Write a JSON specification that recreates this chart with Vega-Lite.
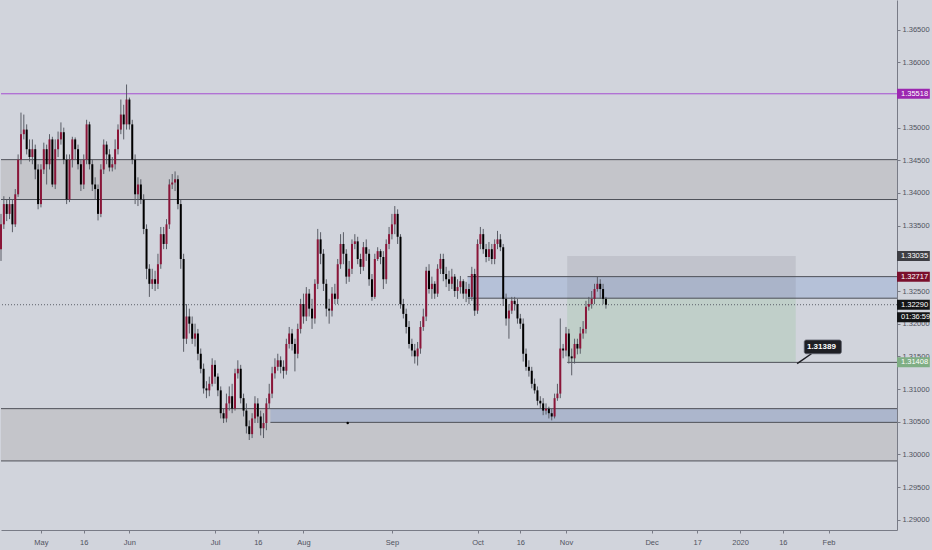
{
  "$schema": "https://vega.github.io/schema/vega-lite/v6.json",
  "width": 932,
  "height": 550,
  "autosize": {"type": "fit", "contains": "padding"},
  "padding": {"top": 0, "left": 0, "right": 0, "bottom": 4},
  "background": "#d1d4dc",
  "config": {"view": {"stroke": null}, "font": "Liberation Sans"},
  "datasets": {
    "candles": [
      {"t":"2019-04-17","o":1.3314,"h":1.3368,"l":1.3296,"c":1.3352},
      {"t":"2019-04-18","o":1.3352,"h":1.3395,"l":1.3345,"c":1.3383},
      {"t":"2019-04-19","o":1.3383,"h":1.3390,"l":1.3357,"c":1.3368},
      {"t":"2019-04-20","o":1.3368,"h":1.3394,"l":1.3360,"c":1.3383},
      {"t":"2019-04-21","o":1.3383,"h":1.3390,"l":1.3340,"c":1.3352},
      {"t":"2019-04-22","o":1.3352,"h":1.3406,"l":1.3348,"c":1.3398},
      {"t":"2019-04-23","o":1.3398,"h":1.3459,"l":1.3394,"c":1.3451},
      {"t":"2019-04-24","o":1.3451,"h":1.3523,"l":1.3444,"c":1.3490},
      {"t":"2019-04-25","o":1.3490,"h":1.3520,"l":1.3482,"c":1.3497},
      {"t":"2019-04-26","o":1.3497,"h":1.3505,"l":1.3459,"c":1.3467},
      {"t":"2019-04-27","o":1.3467,"h":1.3482,"l":1.3448,"c":1.3455},
      {"t":"2019-04-28","o":1.3455,"h":1.3482,"l":1.3444,"c":1.3467},
      {"t":"2019-04-29","o":1.3467,"h":1.3474,"l":1.3421,"c":1.3436},
      {"t":"2019-04-30","o":1.3436,"h":1.3444,"l":1.3375,"c":1.3383},
      {"t":"2019-05-01","o":1.3383,"h":1.3444,"l":1.3378,"c":1.3436},
      {"t":"2019-05-02","o":1.3436,"h":1.3477,"l":1.3429,"c":1.3467},
      {"t":"2019-05-03","o":1.3467,"h":1.3474,"l":1.3413,"c":1.3444},
      {"t":"2019-05-04","o":1.3444,"h":1.3490,"l":1.3436,"c":1.3482},
      {"t":"2019-05-05","o":1.3482,"h":1.3486,"l":1.3409,"c":1.3413},
      {"t":"2019-05-06","o":1.3413,"h":1.3482,"l":1.3406,"c":1.3467},
      {"t":"2019-05-07","o":1.3467,"h":1.3494,"l":1.3455,"c":1.3482},
      {"t":"2019-05-08","o":1.3482,"h":1.3508,"l":1.3474,"c":1.3493},
      {"t":"2019-05-09","o":1.3493,"h":1.3500,"l":1.3444,"c":1.3451},
      {"t":"2019-05-10","o":1.3451,"h":1.3459,"l":1.3383,"c":1.3390},
      {"t":"2019-05-11","o":1.3390,"h":1.3459,"l":1.3386,"c":1.3451},
      {"t":"2019-05-12","o":1.3451,"h":1.3486,"l":1.3439,"c":1.3482},
      {"t":"2019-05-13","o":1.3482,"h":1.3485,"l":1.3451,"c":1.3467},
      {"t":"2019-05-14","o":1.3467,"h":1.3474,"l":1.3436,"c":1.3444},
      {"t":"2019-05-15","o":1.3444,"h":1.3451,"l":1.3403,"c":1.3413},
      {"t":"2019-05-16","o":1.3413,"h":1.3459,"l":1.3406,"c":1.3451},
      {"t":"2019-05-17","o":1.3451,"h":1.3512,"l":1.3444,"c":1.3505},
      {"t":"2019-05-18","o":1.3505,"h":1.3509,"l":1.3436,"c":1.3444},
      {"t":"2019-05-19","o":1.3444,"h":1.3451,"l":1.3403,"c":1.3413},
      {"t":"2019-05-20","o":1.3413,"h":1.3424,"l":1.3390,"c":1.3406},
      {"t":"2019-05-21","o":1.3406,"h":1.3413,"l":1.3358,"c":1.3368},
      {"t":"2019-05-22","o":1.3368,"h":1.3444,"l":1.3363,"c":1.3436},
      {"t":"2019-05-23","o":1.3436,"h":1.3482,"l":1.3429,"c":1.3474},
      {"t":"2019-05-24","o":1.3474,"h":1.3479,"l":1.3444,"c":1.3459},
      {"t":"2019-05-25","o":1.3459,"h":1.3467,"l":1.3433,"c":1.3439},
      {"t":"2019-05-26","o":1.3439,"h":1.3455,"l":1.3433,"c":1.3444},
      {"t":"2019-05-27","o":1.3444,"h":1.3482,"l":1.3436,"c":1.3467},
      {"t":"2019-05-28","o":1.3467,"h":1.3505,"l":1.3459,"c":1.3497},
      {"t":"2019-05-29","o":1.3497,"h":1.3543,"l":1.3490,"c":1.3520},
      {"t":"2019-05-30","o":1.3520,"h":1.3535,"l":1.3482,"c":1.3505},
      {"t":"2019-05-31","o":1.3505,"h":1.3566,"l":1.3497,"c":1.3543},
      {"t":"2019-06-01","o":1.3543,"h":1.3546,"l":1.3497,"c":1.3505},
      {"t":"2019-06-02","o":1.3505,"h":1.3512,"l":1.3444,"c":1.3451},
      {"t":"2019-06-03","o":1.3451,"h":1.3459,"l":1.3383,"c":1.3398},
      {"t":"2019-06-04","o":1.3398,"h":1.3424,"l":1.3380,"c":1.3413},
      {"t":"2019-06-05","o":1.3413,"h":1.3421,"l":1.3383,"c":1.3390},
      {"t":"2019-06-06","o":1.3390,"h":1.3398,"l":1.3337,"c":1.3345},
      {"t":"2019-06-07","o":1.3345,"h":1.3352,"l":1.3268,"c":1.3284},
      {"t":"2019-06-08","o":1.3284,"h":1.3291,"l":1.3241,"c":1.3261},
      {"t":"2019-06-09","o":1.3261,"h":1.3284,"l":1.3253,"c":1.3268},
      {"t":"2019-06-10","o":1.3268,"h":1.3281,"l":1.3250,"c":1.3261},
      {"t":"2019-06-11","o":1.3261,"h":1.3307,"l":1.3253,"c":1.3291},
      {"t":"2019-06-12","o":1.3291,"h":1.3348,"l":1.3284,"c":1.3337},
      {"t":"2019-06-13","o":1.3337,"h":1.3348,"l":1.3314,"c":1.3322},
      {"t":"2019-06-14","o":1.3322,"h":1.3360,"l":1.3314,"c":1.3352},
      {"t":"2019-06-15","o":1.3352,"h":1.3421,"l":1.3345,"c":1.3413},
      {"t":"2019-06-16","o":1.3413,"h":1.3429,"l":1.3406,"c":1.3416},
      {"t":"2019-06-17","o":1.3416,"h":1.3433,"l":1.3403,"c":1.3421},
      {"t":"2019-06-18","o":1.3421,"h":1.3427,"l":1.3375,"c":1.3383},
      {"t":"2019-06-19","o":1.3383,"h":1.3390,"l":1.3284,"c":1.3299},
      {"t":"2019-06-20","o":1.3299,"h":1.3307,"l":1.3157,"c":1.3177},
      {"t":"2019-06-21","o":1.3177,"h":1.3230,"l":1.3169,"c":1.3211},
      {"t":"2019-06-22","o":1.3211,"h":1.3223,"l":1.3185,"c":1.3200},
      {"t":"2019-06-23","o":1.3200,"h":1.3211,"l":1.3169,"c":1.3177},
      {"t":"2019-06-24","o":1.3177,"h":1.3200,"l":1.3165,"c":1.3185},
      {"t":"2019-06-25","o":1.3185,"h":1.3192,"l":1.3144,"c":1.3154},
      {"t":"2019-06-26","o":1.3154,"h":1.3162,"l":1.3124,"c":1.3131},
      {"t":"2019-06-27","o":1.3131,"h":1.3139,"l":1.3093,"c":1.3101},
      {"t":"2019-06-28","o":1.3101,"h":1.3112,"l":1.3086,"c":1.3098},
      {"t":"2019-06-29","o":1.3098,"h":1.3119,"l":1.3089,"c":1.3108},
      {"t":"2019-06-30","o":1.3108,"h":1.3147,"l":1.3104,"c":1.3137},
      {"t":"2019-07-01","o":1.3137,"h":1.3144,"l":1.3108,"c":1.3119},
      {"t":"2019-07-02","o":1.3119,"h":1.3124,"l":1.3089,"c":1.3098},
      {"t":"2019-07-03","o":1.3098,"h":1.3104,"l":1.3055,"c":1.3063},
      {"t":"2019-07-04","o":1.3063,"h":1.3070,"l":1.3048,"c":1.3055},
      {"t":"2019-07-05","o":1.3055,"h":1.3093,"l":1.3049,"c":1.3078},
      {"t":"2019-07-06","o":1.3078,"h":1.3104,"l":1.3067,"c":1.3089},
      {"t":"2019-07-07","o":1.3089,"h":1.3108,"l":1.3063,"c":1.3070},
      {"t":"2019-07-08","o":1.3070,"h":1.3131,"l":1.3067,"c":1.3124},
      {"t":"2019-07-09","o":1.3124,"h":1.3144,"l":1.3116,"c":1.3131},
      {"t":"2019-07-10","o":1.3131,"h":1.3137,"l":1.3078,"c":1.3086},
      {"t":"2019-07-11","o":1.3086,"h":1.3093,"l":1.3058,"c":1.3067},
      {"t":"2019-07-12","o":1.3067,"h":1.3078,"l":1.3032,"c":1.3043},
      {"t":"2019-07-13","o":1.3043,"h":1.3052,"l":1.3022,"c":1.3031},
      {"t":"2019-07-14","o":1.3031,"h":1.3063,"l":1.3025,"c":1.3055},
      {"t":"2019-07-15","o":1.3055,"h":1.3089,"l":1.3048,"c":1.3078},
      {"t":"2019-07-16","o":1.3078,"h":1.3086,"l":1.3048,"c":1.3058},
      {"t":"2019-07-17","o":1.3058,"h":1.3067,"l":1.3029,"c":1.3040},
      {"t":"2019-07-18","o":1.3040,"h":1.3063,"l":1.3025,"c":1.3048},
      {"t":"2019-07-19","o":1.3048,"h":1.3086,"l":1.3037,"c":1.3078},
      {"t":"2019-07-20","o":1.3078,"h":1.3108,"l":1.3070,"c":1.3093},
      {"t":"2019-07-21","o":1.3093,"h":1.3134,"l":1.3086,"c":1.3124},
      {"t":"2019-07-22","o":1.3124,"h":1.3147,"l":1.3116,"c":1.3134},
      {"t":"2019-07-23","o":1.3134,"h":1.3154,"l":1.3128,"c":1.3144},
      {"t":"2019-07-24","o":1.3144,"h":1.3150,"l":1.3124,"c":1.3134},
      {"t":"2019-07-25","o":1.3134,"h":1.3144,"l":1.3116,"c":1.3128},
      {"t":"2019-07-26","o":1.3128,"h":1.3177,"l":1.3122,"c":1.3169},
      {"t":"2019-07-27","o":1.3169,"h":1.3195,"l":1.3162,"c":1.3185},
      {"t":"2019-07-28","o":1.3185,"h":1.3192,"l":1.3159,"c":1.3169},
      {"t":"2019-07-29","o":1.3169,"h":1.3177,"l":1.3127,"c":1.3154},
      {"t":"2019-07-30","o":1.3154,"h":1.3200,"l":1.3147,"c":1.3192},
      {"t":"2019-07-31","o":1.3192,"h":1.3238,"l":1.3185,"c":1.3230},
      {"t":"2019-08-01","o":1.3230,"h":1.3246,"l":1.3200,"c":1.3211},
      {"t":"2019-08-02","o":1.3211,"h":1.3256,"l":1.3204,"c":1.3246},
      {"t":"2019-08-03","o":1.3246,"h":1.3253,"l":1.3211,"c":1.3223},
      {"t":"2019-08-04","o":1.3223,"h":1.3238,"l":1.3192,"c":1.3208},
      {"t":"2019-08-05","o":1.3208,"h":1.3268,"l":1.3200,"c":1.3261},
      {"t":"2019-08-06","o":1.3261,"h":1.3345,"l":1.3253,"c":1.3329},
      {"t":"2019-08-07","o":1.3329,"h":1.3340,"l":1.3291,"c":1.3307},
      {"t":"2019-08-08","o":1.3307,"h":1.3314,"l":1.3250,"c":1.3261},
      {"t":"2019-08-09","o":1.3261,"h":1.3268,"l":1.3211,"c":1.3223},
      {"t":"2019-08-10","o":1.3223,"h":1.3238,"l":1.3200,"c":1.3220},
      {"t":"2019-08-11","o":1.3220,"h":1.3256,"l":1.3211,"c":1.3246},
      {"t":"2019-08-12","o":1.3246,"h":1.3261,"l":1.3230,"c":1.3238},
      {"t":"2019-08-13","o":1.3238,"h":1.3299,"l":1.3230,"c":1.3291},
      {"t":"2019-08-14","o":1.3291,"h":1.3337,"l":1.3284,"c":1.3322},
      {"t":"2019-08-15","o":1.3322,"h":1.3340,"l":1.3291,"c":1.3307},
      {"t":"2019-08-16","o":1.3307,"h":1.3314,"l":1.3261,"c":1.3272},
      {"t":"2019-08-17","o":1.3272,"h":1.3296,"l":1.3264,"c":1.3284},
      {"t":"2019-08-18","o":1.3284,"h":1.3329,"l":1.3276,"c":1.3322},
      {"t":"2019-08-19","o":1.3322,"h":1.3337,"l":1.3314,"c":1.3326},
      {"t":"2019-08-20","o":1.3326,"h":1.3333,"l":1.3291,"c":1.3299},
      {"t":"2019-08-21","o":1.3299,"h":1.3307,"l":1.3276,"c":1.3287},
      {"t":"2019-08-22","o":1.3287,"h":1.3325,"l":1.3281,"c":1.3317},
      {"t":"2019-08-23","o":1.3317,"h":1.3329,"l":1.3296,"c":1.3307},
      {"t":"2019-08-24","o":1.3307,"h":1.3314,"l":1.3258,"c":1.3268},
      {"t":"2019-08-25","o":1.3268,"h":1.3276,"l":1.3235,"c":1.3241},
      {"t":"2019-08-26","o":1.3241,"h":1.3307,"l":1.3238,"c":1.3299},
      {"t":"2019-08-27","o":1.3299,"h":1.3317,"l":1.3296,"c":1.3311},
      {"t":"2019-08-28","o":1.3311,"h":1.3314,"l":1.3291,"c":1.3302},
      {"t":"2019-08-29","o":1.3302,"h":1.3311,"l":1.3253,"c":1.3268},
      {"t":"2019-08-30","o":1.3268,"h":1.3329,"l":1.3261,"c":1.3322},
      {"t":"2019-08-31","o":1.3322,"h":1.3348,"l":1.3314,"c":1.3337},
      {"t":"2019-09-01","o":1.3337,"h":1.3368,"l":1.3329,"c":1.3352},
      {"t":"2019-09-02","o":1.3352,"h":1.3380,"l":1.3337,"c":1.3368},
      {"t":"2019-09-03","o":1.3368,"h":1.3375,"l":1.3322,"c":1.3333},
      {"t":"2019-09-04","o":1.3333,"h":1.3337,"l":1.3223,"c":1.3230},
      {"t":"2019-09-05","o":1.3230,"h":1.3238,"l":1.3208,"c":1.3215},
      {"t":"2019-09-06","o":1.3215,"h":1.3223,"l":1.3185,"c":1.3195},
      {"t":"2019-09-07","o":1.3195,"h":1.3204,"l":1.3162,"c":1.3169},
      {"t":"2019-09-08","o":1.3169,"h":1.3177,"l":1.3150,"c":1.3159},
      {"t":"2019-09-09","o":1.3159,"h":1.3169,"l":1.3139,"c":1.3150},
      {"t":"2019-09-10","o":1.3150,"h":1.3172,"l":1.3136,"c":1.3162},
      {"t":"2019-09-11","o":1.3162,"h":1.3204,"l":1.3154,"c":1.3195},
      {"t":"2019-09-12","o":1.3195,"h":1.3223,"l":1.3189,"c":1.3211},
      {"t":"2019-09-13","o":1.3211,"h":1.3287,"l":1.3204,"c":1.3281},
      {"t":"2019-09-14","o":1.3281,"h":1.3291,"l":1.3246,"c":1.3253},
      {"t":"2019-09-15","o":1.3253,"h":1.3272,"l":1.3238,"c":1.3261},
      {"t":"2019-09-16","o":1.3261,"h":1.3265,"l":1.3238,"c":1.3246},
      {"t":"2019-09-17","o":1.3246,"h":1.3291,"l":1.3241,"c":1.3284},
      {"t":"2019-09-18","o":1.3284,"h":1.3307,"l":1.3276,"c":1.3299},
      {"t":"2019-09-19","o":1.3299,"h":1.3307,"l":1.3265,"c":1.3276},
      {"t":"2019-09-20","o":1.3276,"h":1.3287,"l":1.3256,"c":1.3268},
      {"t":"2019-09-21","o":1.3268,"h":1.3281,"l":1.3250,"c":1.3261},
      {"t":"2019-09-22","o":1.3261,"h":1.3284,"l":1.3253,"c":1.3272},
      {"t":"2019-09-23","o":1.3272,"h":1.3276,"l":1.3241,"c":1.3250},
      {"t":"2019-09-24","o":1.3250,"h":1.3268,"l":1.3238,"c":1.3256},
      {"t":"2019-09-25","o":1.3256,"h":1.3273,"l":1.3246,"c":1.3265},
      {"t":"2019-09-26","o":1.3265,"h":1.3268,"l":1.3238,"c":1.3246},
      {"t":"2019-09-27","o":1.3246,"h":1.3264,"l":1.3233,"c":1.3253},
      {"t":"2019-09-28","o":1.3253,"h":1.3261,"l":1.3230,"c":1.3241},
      {"t":"2019-09-29","o":1.3241,"h":1.3287,"l":1.3235,"c":1.3276},
      {"t":"2019-09-30","o":1.3276,"h":1.3284,"l":1.3212,"c":1.3220},
      {"t":"2019-10-01","o":1.3220,"h":1.3329,"l":1.3215,"c":1.3322},
      {"t":"2019-10-02","o":1.3322,"h":1.3348,"l":1.3314,"c":1.3337},
      {"t":"2019-10-03","o":1.3337,"h":1.3345,"l":1.3307,"c":1.3314},
      {"t":"2019-10-04","o":1.3314,"h":1.3322,"l":1.3294,"c":1.3302},
      {"t":"2019-10-05","o":1.3302,"h":1.3325,"l":1.3296,"c":1.3314},
      {"t":"2019-10-06","o":1.3314,"h":1.3322,"l":1.3291,"c":1.3299},
      {"t":"2019-10-07","o":1.3299,"h":1.3329,"l":1.3291,"c":1.3322},
      {"t":"2019-10-08","o":1.3322,"h":1.3342,"l":1.3314,"c":1.3329},
      {"t":"2019-10-09","o":1.3329,"h":1.3337,"l":1.3311,"c":1.3317},
      {"t":"2019-10-10","o":1.3317,"h":1.3322,"l":1.3227,"c":1.3238},
      {"t":"2019-10-11","o":1.3238,"h":1.3246,"l":1.3197,"c":1.3208},
      {"t":"2019-10-12","o":1.3208,"h":1.3230,"l":1.3177,"c":1.3220},
      {"t":"2019-10-13","o":1.3220,"h":1.3241,"l":1.3215,"c":1.3235},
      {"t":"2019-10-14","o":1.3235,"h":1.3241,"l":1.3220,"c":1.3230},
      {"t":"2019-10-15","o":1.3230,"h":1.3238,"l":1.3200,"c":1.3208},
      {"t":"2019-10-16","o":1.3208,"h":1.3215,"l":1.3192,"c":1.3200},
      {"t":"2019-10-17","o":1.3200,"h":1.3208,"l":1.3142,"c":1.3154},
      {"t":"2019-10-18","o":1.3154,"h":1.3162,"l":1.3128,"c":1.3134},
      {"t":"2019-10-19","o":1.3134,"h":1.3144,"l":1.3119,"c":1.3128},
      {"t":"2019-10-20","o":1.3128,"h":1.3134,"l":1.3101,"c":1.3108},
      {"t":"2019-10-21","o":1.3108,"h":1.3116,"l":1.3093,"c":1.3098},
      {"t":"2019-10-22","o":1.3098,"h":1.3104,"l":1.3075,"c":1.3082},
      {"t":"2019-10-23","o":1.3082,"h":1.3089,"l":1.3070,"c":1.3078},
      {"t":"2019-10-24","o":1.3078,"h":1.3086,"l":1.3060,"c":1.3067},
      {"t":"2019-10-25","o":1.3067,"h":1.3078,"l":1.3061,"c":1.3070},
      {"t":"2019-10-26","o":1.3070,"h":1.3073,"l":1.3055,"c":1.3063},
      {"t":"2019-10-27","o":1.3063,"h":1.3070,"l":1.3052,"c":1.3058},
      {"t":"2019-10-28","o":1.3058,"h":1.3093,"l":1.3055,"c":1.3086},
      {"t":"2019-10-29","o":1.3086,"h":1.3108,"l":1.3082,"c":1.3093},
      {"t":"2019-10-30","o":1.3093,"h":1.3208,"l":1.3086,"c":1.3162},
      {"t":"2019-10-31","o":1.3162,"h":1.3169,"l":1.3147,"c":1.3159},
      {"t":"2019-11-01","o":1.3159,"h":1.3195,"l":1.3150,"c":1.3185},
      {"t":"2019-11-02","o":1.3185,"h":1.3192,"l":1.3139,"c":1.3150},
      {"t":"2019-11-03","o":1.3150,"h":1.3162,"l":1.3121,"c":1.3147},
      {"t":"2019-11-04","o":1.3147,"h":1.3177,"l":1.3139,"c":1.3169},
      {"t":"2019-11-05","o":1.3169,"h":1.3177,"l":1.3153,"c":1.3162},
      {"t":"2019-11-06","o":1.3162,"h":1.3195,"l":1.3154,"c":1.3185},
      {"t":"2019-11-07","o":1.3185,"h":1.3204,"l":1.3177,"c":1.3192},
      {"t":"2019-11-08","o":1.3192,"h":1.3235,"l":1.3185,"c":1.3226},
      {"t":"2019-11-09","o":1.3226,"h":1.3241,"l":1.3220,"c":1.3230},
      {"t":"2019-11-10","o":1.3230,"h":1.3250,"l":1.3223,"c":1.3238},
      {"t":"2019-11-11","o":1.3238,"h":1.3261,"l":1.3230,"c":1.3253},
      {"t":"2019-11-12","o":1.3253,"h":1.3272,"l":1.3249,"c":1.3261},
      {"t":"2019-11-13","o":1.3261,"h":1.3268,"l":1.3238,"c":1.3253},
      {"t":"2019-11-14","o":1.3253,"h":1.3261,"l":1.3230,"c":1.3238},
      {"t":"2019-11-15","o":1.3238,"h":1.3241,"l":1.3223,"c":1.3229}
    ],
    "zones": [
      {"zone":"grey","t1":"2019-04-17","t2":"2020-02-25","p1":1.3390,"p2":1.3451},
      {"zone":"grey","t1":"2019-04-17","t2":"2020-02-25","p1":1.2990,"p2":1.3070},
      {"zone":"blue","t1":"2019-09-27T12:00:00Z","t2":"2020-02-25","p1":1.3239,"p2":1.3272},
      {"zone":"blue","t1":"2019-07-20T10:00:00Z","t2":"2020-02-25","p1":1.3049,"p2":1.3070},
      {"zone":"stop","t1":"2019-11-01T10:00:00Z","t2":"2020-01-20T12:00:00Z","p1":1.3239,"p2":1.33035},
      {"zone":"target","t1":"2019-11-01T10:00:00Z","t2":"2020-01-20T12:00:00Z","p1":1.31408,"p2":1.3239}
    ],
    "levels": [
      {"t1":"2019-04-17","t2":"2020-02-25","p":1.3451},
      {"t1":"2019-04-17","t2":"2020-02-25","p":1.3390},
      {"t1":"2019-04-17","t2":"2020-02-25","p":1.3070},
      {"t1":"2019-04-17","t2":"2020-02-25","p":1.2990},
      {"t1":"2019-09-27T12:00:00Z","t2":"2020-02-25","p":1.3272},
      {"t1":"2019-09-27T12:00:00Z","t2":"2020-02-25","p":1.3239},
      {"t1":"2019-07-20T10:00:00Z","t2":"2020-02-25","p":1.3049},
      {"t1":"2019-11-01T10:00:00Z","t2":"2020-02-25","p":1.31408}
    ],
    "tags": [
      {"p":1.35518,"label":"1.35518","kind":"alert"},
      {"p":1.33035,"label":"1.33035","kind":"stop"},
      {"p":1.32717,"label":"1.32717","kind":"zone"},
      {"p":1.3229,"label":"1.32290","kind":"last"},
      {"p":1.3210,"label":"01:36:59","kind":"last"},
      {"p":1.31408,"label":"1.31408","kind":"target"}
    ]
  },
  "layer": [
    {
      "data": {"name": "zones"},
      "mark": {"type": "rect"},
      "encoding": {
        "x": {"field": "t1", "type": "temporal",
          "scale": {"type": "utc", "padding": 0, "nice": false, "domain": [{"year":2019,"month":4,"date":17,"utc":true},{"year":2020,"month":2,"date":25,"utc":true}]},
          "axis": {
            "title": null, "grid": false, "orient": "bottom",
            "values": [
              {"year":2019,"month":5,"date":1,"utc":true},{"year":2019,"month":5,"date":16,"utc":true},
              {"year":2019,"month":6,"date":1,"utc":true},{"year":2019,"month":7,"date":1,"utc":true},
              {"year":2019,"month":7,"date":16,"utc":true},{"year":2019,"month":8,"date":1,"utc":true},
              {"year":2019,"month":9,"date":1,"utc":true},{"year":2019,"month":10,"date":1,"utc":true},
              {"year":2019,"month":10,"date":16,"utc":true},{"year":2019,"month":11,"date":1,"utc":true},
              {"year":2019,"month":12,"date":1,"utc":true},{"year":2019,"month":12,"date":17,"utc":true},
              {"year":2020,"month":1,"date":1,"utc":true},{"year":2020,"month":1,"date":16,"utc":true},
              {"year":2020,"month":2,"date":1,"utc":true}
            ],
            "labelExpr": "utcdate(datum.value) == 1 ? (utcmonth(datum.value) == 0 ? utcFormat(datum.value, '%Y') : utcFormat(datum.value, '%b')) : utcFormat(datum.value, '%d')",
            "labelFontSize": 7.5, "labelColor": "#50535e", "labelPadding": 5, "labelOverlap": false,
            "tickSize": 3, "tickColor": "#787b86", "domainColor": "#787b86", "labelFlush": false
          }
        },
        "x2": {"field": "t2"},
        "y": {"field": "p1", "type": "quantitative",
          "scale": {"domain": [1.28843, 1.36953], "zero": false, "nice": false, "padding": 0},
          "axis": {
            "title": null, "grid": false, "orient": "right",
            "values": [1.29, 1.295, 1.3, 1.305, 1.31, 1.315, 1.32, 1.325, 1.335, 1.34, 1.345, 1.35, 1.36, 1.365],
            "format": ".5f", "labelFontSize": 7.5, "labelColor": "#50535e", "labelPadding": 2, "labelOverlap": false,
            "tickSize": 3, "tickColor": "#787b86", "domainColor": "#787b86"
          }
        },
        "y2": {"field": "p2"},
        "color": {"condition": [
          {"test": "datum.zone == 'blue'", "value": "#7a97cf"},
          {"test": "datum.zone == 'stop'", "value": "#787b86"},
          {"test": "datum.zone == 'target'", "value": "#4caf50"}], "value": "#c4c5ca"},
        "opacity": {"condition": [
          {"test": "datum.zone == 'blue'", "value": 0.32},
          {"test": "datum.zone == 'stop'", "value": 0.18},
          {"test": "datum.zone == 'target'", "value": 0.13}], "value": 1}
      }
    },
    {
      "data": {"name": "levels"},
      "mark": {"type": "rule", "color": "#4e5058", "strokeWidth": 1},
      "encoding": {
        "x": {"field": "t1", "type": "temporal"},
        "x2": {"field": "t2"},
        "y": {"field": "p", "type": "quantitative"}
      }
    },
    {
      "data": {"values": [{"p": 1.35518}]},
      "mark": {"type": "rule", "color": "#a64ed1", "strokeWidth": 1},
      "encoding": {"y": {"field": "p", "type": "quantitative"}}
    },
    {
      "data": {"values": [{"p": 1.3229}]},
      "mark": {"type": "rule", "color": "#5d606b", "strokeWidth": 1, "strokeDash": [1, 2]},
      "encoding": {"y": {"field": "p", "type": "quantitative"}}
    },
    {
      "data": {"name": "candles"},
      "mark": {"type": "rule", "color": "#5a5d66", "strokeWidth": 1},
      "encoding": {
        "x": {"field": "t", "type": "temporal"},
        "y": {"field": "l", "type": "quantitative"},
        "y2": {"field": "h"}
      }
    },
    {
      "data": {"name": "candles"},
      "mark": {"type": "bar", "size": 2},
      "encoding": {
        "x": {"field": "t", "type": "temporal"},
        "y": {"field": "o", "type": "quantitative"},
        "y2": {"field": "c"},
        "color": {"condition": {"test": "datum.c >= datum.o", "value": "#8a1538"}, "value": "#000000"}
      }
    },
    {
      "data": {"values": [{"t": "2019-08-16T12:00:00Z", "p": 1.3048}]},
      "mark": {"type": "point", "filled": true, "size": 6, "color": "#000000", "opacity": 1},
      "encoding": {
        "x": {"field": "t", "type": "temporal"},
        "y": {"field": "p", "type": "quantitative"}
      }
    },
    {
      "data": {"values": [{"t1": "2020-01-21", "p1": 1.31389, "t2": "2020-01-26", "p2": 1.3154}]},
      "mark": {"type": "rule", "color": "#1e1f24", "strokeWidth": 1.5},
      "encoding": {
        "x": {"field": "t1", "type": "temporal"},
        "x2": {"field": "t2"},
        "y": {"field": "p1", "type": "quantitative"},
        "y2": {"field": "p2"}
      }
    },
    {
      "data": {"values": [{"t1": "2020-01-23T12:00:00Z", "t2": "2020-02-05T12:00:00Z", "p1": 1.3154, "p2": 1.3175}]},
      "mark": {"type": "rect", "color": "#1e1f24", "stroke": "#5d606b", "strokeWidth": 0.8, "cornerRadius": 2},
      "encoding": {
        "x": {"field": "t1", "type": "temporal"},
        "x2": {"field": "t2"},
        "y": {"field": "p1", "type": "quantitative"},
        "y2": {"field": "p2"}
      }
    },
    {
      "data": {"values": [{"t": "2020-01-29T12:00:00Z", "p": 1.31645, "label": "1.31389"}]},
      "mark": {"type": "text", "color": "#ffffff", "fontSize": 8, "fontWeight": "bold", "align": "center", "baseline": "middle"},
      "encoding": {
        "x": {"field": "t", "type": "temporal"},
        "y": {"field": "p", "type": "quantitative"},
        "text": {"field": "label"}
      }
    },
    {
      "data": {"name": "tags"},
      "mark": {"type": "bar", "size": 10},
      "encoding": {
        "x": {"datum": {"year": 2020, "month": 2, "date": 25, "utc": true}, "type": "temporal"},
        "x2": {"datum": {"year": 2020, "month": 3, "date": 7, "hours": 12, "utc": true}},
        "y": {"field": "p", "type": "quantitative"},
        "color": {"condition": [
          {"test": "datum.kind == 'alert'", "value": "#9c27b0"},
          {"test": "datum.kind == 'stop'", "value": "#3d3e44"},
          {"test": "datum.kind == 'zone'", "value": "#7a0f2c"},
          {"test": "datum.kind == 'target'", "value": "#7fae84"}], "value": "#131416"}
      }
    },
    {
      "data": {"name": "tags"},
      "mark": {"type": "text", "color": "#ffffff", "fontSize": 7.5, "align": "left", "baseline": "middle", "dx": 4},
      "encoding": {
        "x": {"datum": {"year": 2020, "month": 2, "date": 25, "utc": true}, "type": "temporal"},
        "y": {"field": "p", "type": "quantitative"},
        "text": {"field": "label"}
      }
    }
  ]
}
